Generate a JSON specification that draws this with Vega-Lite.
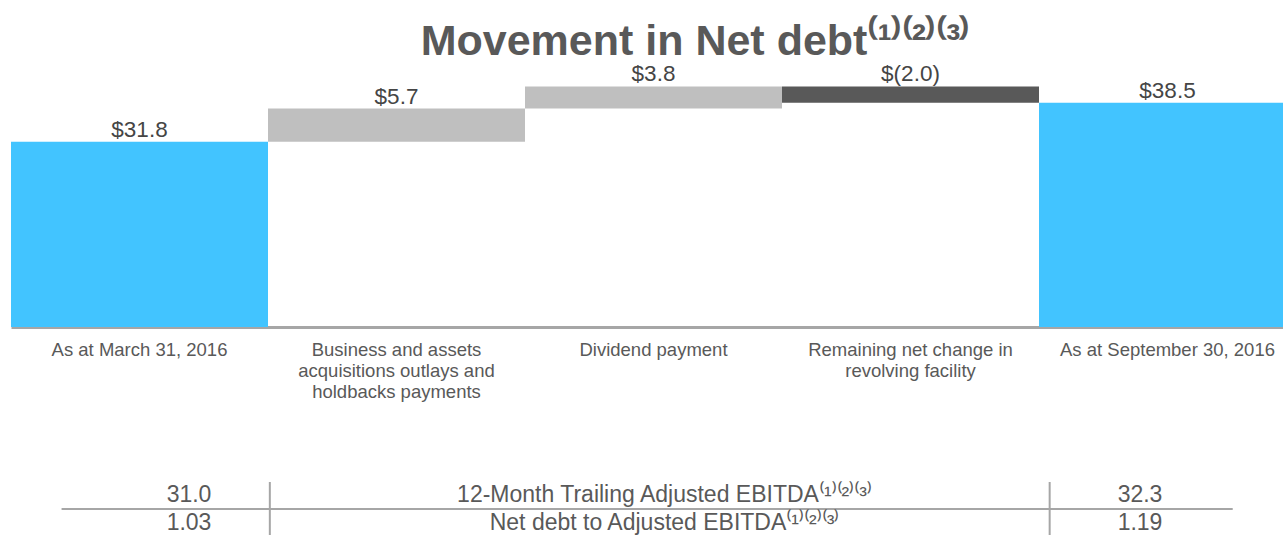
{
  "$schema": "https://vega.github.io/schema/vega-lite/v6.json",
  "padding": {"left": 11, "right": 0, "top": 21, "bottom": 0},
  "config": {"font": "Liberation Sans", "view": {"stroke": null}},
  "title": {"text": "Movement in Net debt⁽¹⁾⁽²⁾⁽³⁾", "fontSize": 43, "fontWeight": "bold", "color": "#595959", "anchor": "middle", "offset": -2, "dx": 42},
  "spacing": 80,
  "vconcat": [
    {
      "width": 1285,
      "height": 265,
      "data": {"values": [
        {"step": "As at March 31, 2016", "start": 0, "end": 31.8, "kind": "total", "label": "$31.8"},
        {"step": "Business and assets|acquisitions outlays and|holdbacks payments", "start": 31.8, "end": 37.5, "kind": "increase", "label": "$5.7"},
        {"step": "Dividend payment", "start": 37.5, "end": 41.3, "kind": "increase", "label": "$3.8"},
        {"step": "Remaining net change in|revolving facility", "start": 41.3, "end": 38.5, "kind": "decrease", "label": "$(2.0)"},
        {"step": "As at September 30, 2016", "start": 0, "end": 38.5, "kind": "total", "label": "$38.5"}
      ]},
      "encoding": {
        "x": {
          "field": "step", "type": "nominal",
          "sort": ["As at March 31, 2016", "Business and assets|acquisitions outlays and|holdbacks payments", "Dividend payment", "Remaining net change in|revolving facility", "As at September 30, 2016"],
          "scale": {"paddingInner": 0, "paddingOuter": 0},
          "axis": {"title": null, "labelAngle": 0, "labelFontSize": 18.5, "labelColor": "#595959", "labelPadding": 13, "labelBaseline": "top", "labelLineHeight": 21, "labelLimit": 400, "labelExpr": "split(datum.label, '|')", "domainColor": "#a6a6a6", "domainWidth": 3, "ticks": false}
        }
      },
      "layer": [
        {
          "mark": {"type": "bar"},
          "encoding": {
            "y": {"field": "start", "type": "quantitative", "scale": {"domain": [0, 45.5], "nice": false, "zero": true}, "axis": null},
            "y2": {"field": "end"},
            "color": {"field": "kind", "type": "nominal", "scale": {"domain": ["total", "increase", "decrease"], "range": ["#42C4FF", "#BFBFBF", "#595959"]}, "legend": null}
          }
        },
        {
          "transform": [{"fold": ["start", "end"], "as": ["which", "value"]}],
          "mark": {"type": "text", "fontSize": 22.5, "dy": -12, "color": "#454545", "baseline": "middle"},
          "encoding": {
            "y": {"field": "value", "aggregate": "max", "type": "quantitative"},
            "text": {"field": "label"}
          }
        }
      ]
    },
    {
      "width": 1272,
      "height": 54,
      "layer": [
        {
          "data": {"values": [{}]},
          "mark": {"type": "rule", "color": "#a6a6a6", "strokeWidth": 2},
          "encoding": {
            "x": {"datum": -0.268, "type": "quantitative", "scale": {"domain": [0, 2], "range": [178, 1129], "nice": false, "zero": false}, "axis": null},
            "x2": {"datum": 2.195},
            "y": {"datum": "mid", "type": "ordinal", "scale": {"type": "point", "domain": ["EBITDA", "mid", "Ratio"], "range": [13, 41], "padding": 0}, "axis": null}
          }
        },
        {
          "data": {"values": [{"sep": 0.17}, {"sep": 1.81}]},
          "mark": {"type": "rule", "color": "#a6a6a6", "strokeWidth": 2},
          "encoding": {"x": {"field": "sep", "type": "quantitative"}}
        },
        {
          "data": {"name": "table"},
          "mark": {"type": "text", "fontSize": 23, "color": "#595959", "baseline": "middle"},
          "encoding": {"x": {"datum": 0, "type": "quantitative"}, "y": {"field": "row", "type": "ordinal"}, "text": {"field": "startValue"}}
        },
        {
          "data": {"name": "table"},
          "mark": {"type": "text", "fontSize": 23, "color": "#595959", "baseline": "middle"},
          "encoding": {"x": {"datum": 1, "type": "quantitative"}, "y": {"field": "row", "type": "ordinal"}, "text": {"field": "label"}}
        },
        {
          "data": {"name": "table"},
          "mark": {"type": "text", "fontSize": 23, "color": "#595959", "baseline": "middle"},
          "encoding": {"x": {"datum": 2, "type": "quantitative"}, "y": {"field": "row", "type": "ordinal"}, "text": {"field": "endValue"}}
        }
      ]
    }
  ],
  "datasets": {
    "table": [
      {"row": "EBITDA", "label": "12-Month Trailing Adjusted EBITDA⁽¹⁾⁽²⁾⁽³⁾", "startValue": "31.0", "endValue": "32.3"},
      {"row": "Ratio", "label": "Net debt to Adjusted EBITDA⁽¹⁾⁽²⁾⁽³⁾", "startValue": "1.03", "endValue": "1.19"}
    ]
  }
}
